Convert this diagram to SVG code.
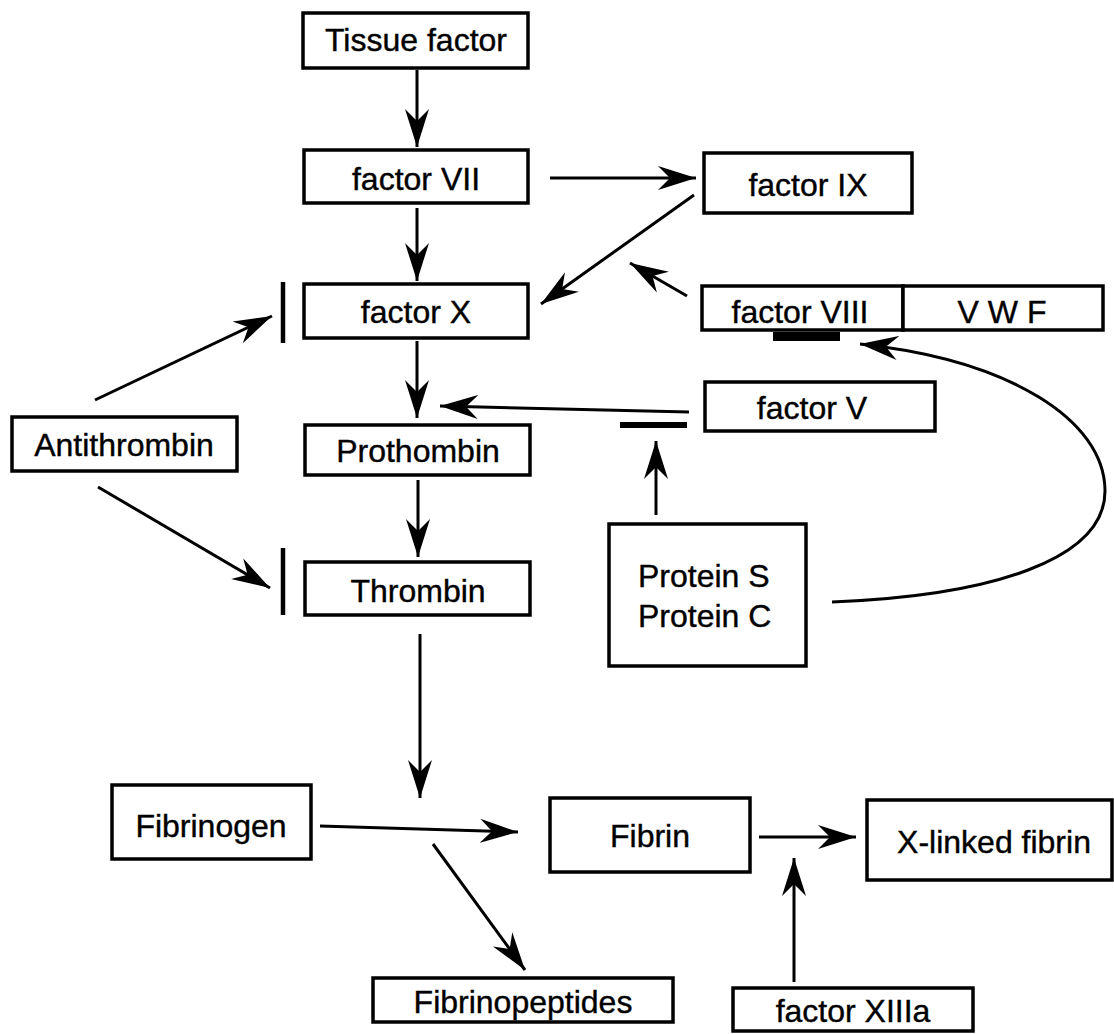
<svg xmlns="http://www.w3.org/2000/svg" width="1114" height="1034" viewBox="0 0 1114 1034">
<defs>
<style>
.box{fill:#fff;stroke:#000;stroke-width:3.5}
.lbl{font-family:"Liberation Sans",Arial,sans-serif;font-size:32px;fill:#000;stroke:#000;stroke-width:0.4;text-anchor:middle}
.lbll{font-family:"Liberation Sans",Arial,sans-serif;font-size:32px;fill:#000;stroke:#000;stroke-width:0.4}
.arr{fill:none;stroke:#000;stroke-width:3;marker-end:url(#ah)}
.bar{stroke:#000;stroke-width:4.5}
</style>
<marker id="ah" markerUnits="userSpaceOnUse" markerWidth="44" markerHeight="28" viewBox="0 -14 44 28" refX="38" refY="0" orient="auto">
<path d="M0,-12 L38,0 L0,12 L12,0 Z" fill="#000"/>
</marker>
</defs>
<rect width="1114" height="1034" fill="#fff"/>
<g id="connectors">
<line class="arr" x1="417" y1="70" x2="417" y2="147"/>
<line class="arr" x1="550" y1="178" x2="696" y2="178"/>
<line class="arr" x1="417" y1="208" x2="417" y2="281"/>
<line class="arr" x1="694" y1="195" x2="541" y2="304"/>
<line class="arr" x1="687" y1="296" x2="630" y2="263"/>
<path class="arr" d="M832,602 C990,596 1106,560 1105,490 C1104,420 1010,360 860,344" stroke-width="4.5"/>
<rect x="773" y="332" width="67" height="9" fill="#000"/>
<line class="arr" x1="417" y1="341" x2="417" y2="418"/>
<line class="arr" x1="689" y1="412" x2="440" y2="406"/>
<rect x="620" y="422" width="67" height="6" fill="#000"/>
<line class="arr" x1="656" y1="515" x2="656" y2="441"/>
<line class="arr" x1="95" y1="400" x2="272" y2="316"/>
<line class="arr" x1="98" y1="487" x2="270" y2="588"/>
<line class="bar" x1="283" y1="282" x2="283" y2="343"/>
<line class="bar" x1="283" y1="548" x2="283" y2="615"/>
<line class="arr" x1="418" y1="480" x2="418" y2="557"/>
<line class="arr" x1="420" y1="634" x2="420" y2="798"/>
<line class="arr" x1="320" y1="826" x2="518" y2="832"/>
<line class="arr" x1="433" y1="844" x2="525" y2="970"/>
<line class="arr" x1="759" y1="837" x2="856" y2="837"/>
<line class="arr" x1="794" y1="982" x2="794" y2="858"/>
</g>
<g id="tissue-factor"><rect class="box" x="303" y="13" width="225" height="55"/><text class="lbl" x="416" y="51">Tissue factor</text></g>
<g id="factor-vii"><rect class="box" x="304" y="150" width="224" height="53"/><text class="lbl" x="416" y="190">factor VII</text></g>
<g id="factor-ix"><rect class="box" x="704" y="153" width="208" height="60"/><text class="lbl" x="808" y="196">factor IX</text></g>
<g id="factor-x"><rect class="box" x="304" y="284" width="224" height="54"/><text class="lbl" x="416" y="323">factor X</text></g>
<g id="factor-viii"><rect class="box" x="702" y="286" width="201" height="44"/><text class="lbl" x="800" y="323">factor VIII</text></g>
<g id="vwf"><rect class="box" x="903" y="286" width="200" height="44"/><text class="lbl" x="1002" y="323">V W F</text></g>
<g id="factor-v"><rect class="box" x="705" y="382" width="230" height="49"/><text class="lbl" x="812" y="419">factor V</text></g>
<g id="antithrombin"><rect class="box" x="12" y="417" width="225" height="54"/><text class="lbl" x="124" y="456">Antithrombin</text></g>
<g id="prothombin"><rect class="box" x="305" y="425" width="225" height="50"/><text class="lbl" x="418" y="462">Prothombin</text></g>
<g id="thrombin"><rect class="box" x="305" y="562" width="225" height="53"/><text class="lbl" x="418" y="602">Thrombin</text></g>
<g id="protein-s-c"><rect class="box" x="609" y="524" width="197" height="142"/><text class="lbll" x="638" y="587">Protein S</text><text class="lbll" x="638" y="627">Protein C</text></g>
<g id="fibrinogen"><rect class="box" x="112" y="785" width="199" height="74"/><text class="lbl" x="211" y="837">Fibrinogen</text></g>
<g id="fibrin"><rect class="box" x="550" y="798" width="200" height="74"/><text class="lbl" x="650" y="847">Fibrin</text></g>
<g id="x-linked-fibrin"><rect class="box" x="867" y="800" width="245" height="80"/><text class="lbl" x="994" y="853">X-linked fibrin</text></g>
<g id="fibrinopeptides"><rect class="box" x="373" y="978" width="300" height="44"/><text class="lbl" x="523" y="1013">Fibrinopeptides</text></g>
<g id="factor-xiiia"><rect class="box" x="733" y="988" width="240" height="43"/><text class="lbl" x="853" y="1022">factor XIIIa</text></g>
</svg>
